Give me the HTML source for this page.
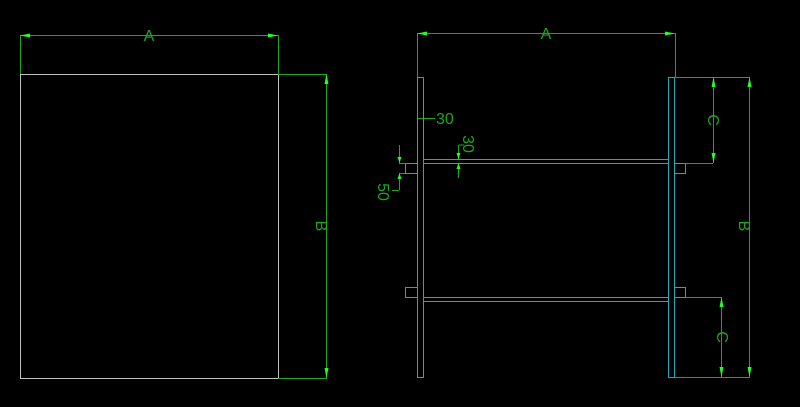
<!DOCTYPE html><html><head><style>body{margin:0;background:#000}svg{display:block}</style></head><body>
<svg width="800" height="407" viewBox="0 0 800 407" xmlns="http://www.w3.org/2000/svg" font-family="Liberation Sans, sans-serif">
<rect width="800" height="407" fill="#000"/>
<g fill="none" stroke-width="1">
<rect x="20.5" y="74.5" width="258" height="304" stroke="#c0c0c0"/>
<g stroke="#1fa51f">
<path d="M20.5 35V74M278.5 35V74M20 35.5H278M278 74.5H327M278 378.5H327M326.5 74V378"/>
<path d="M417.5 33V77M675.5 33V77M417 33.5H675M668 77.5H750M674 163.5H713M713.5 77V163M749.5 77V377M674 377.5H750M685 297.5H721M721.5 297V377"/>
<path d="M417 118.5H435M458.5 145V159M458.5 163V178M440 159.5H470M440 163.5H470M458.5 145H464M399.5 145V163M399.5 173V190M399 190.5H392M399 163.5H405M399 173.5H405"/>
</g>
<g stroke="#22a8b8">
<rect x="417.5" y="77.5" width="6" height="300"/>
<rect x="668.5" y="77.5" width="6" height="300"/>
<path d="M423 159.5H668M423 163.5H668M423 297.5H668M423 301.5H668"/>
<path d="M417 163.5H405.5V173.5H417M674 163.5H685.5V173.5H674M417 297.5H405.5V287.5H417M674 297.5H685.5V287.5H674"/>
</g>
</g>
<g fill="#2f2">
<path d="M20 35.5l10-2v4zM278 35.5l-10-2v4zM326.5 74l-2 10h4zM326.5 378l-2-10h4z"/>
<path d="M417 33.5l10-2v4zM675 33.5l-10-2v4zM713.5 77l-2 10h4zM713.5 163l-2-10h4zM749.5 77l-2 10h4zM749.5 377l-2-10h4zM721.5 297l-2 10h4zM721.5 377l-2-10h4z"/>
<path d="M458.5 159l-2-6h4zM458.5 163l-2 6h4zM399.5 163l-2-6h4zM399.5 173l-2 6h4z"/>
</g>
<g fill="#1fa51f" font-size="16">
<text x="149" y="41" text-anchor="middle">A</text>
<text x="546" y="39" text-anchor="middle">A</text>
<text x="436" y="124">30</text>
<text transform="translate(316,226) rotate(90)" text-anchor="middle">B</text>
<text transform="translate(739,226) rotate(90)" text-anchor="middle">B</text>
<text transform="translate(708,120) rotate(90)" text-anchor="middle">C</text>
<text transform="translate(717,337) rotate(90)" text-anchor="middle">C</text>
<text transform="translate(463,144) rotate(90)" text-anchor="middle">30</text>
<text transform="translate(378,192) rotate(90)" text-anchor="middle">50</text>
</g>
</svg></body></html>
